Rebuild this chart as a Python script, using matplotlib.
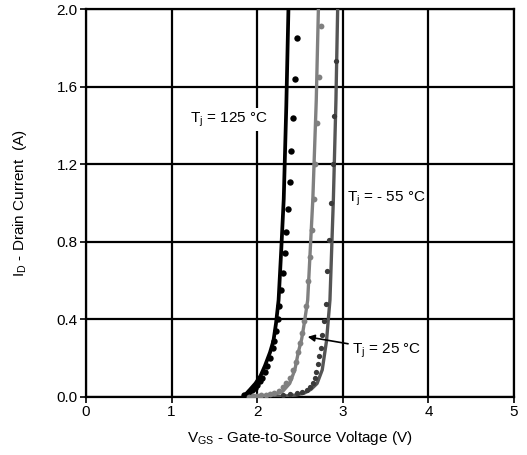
import matplotlib
matplotlib.use("Agg")
import matplotlib.pyplot as plt

plt.rcParams['font.family'] = ['Liberation Sans', 'DejaVu Sans']
plt.rcParams['mathtext.fontset'] = 'custom'
plt.rcParams['mathtext.rm'] = 'Liberation Sans'
plt.rcParams['mathtext.it'] = 'Liberation Sans'

# Fitted transfer curves (V_GS in V, I_D in A)
v_fit_125 = [1.84, 1.92, 1.98, 2.04, 2.09, 2.15, 2.19, 2.22, 2.25, 2.28, 2.31, 2.34, 2.365]
i_fit_125 = [0.00, 0.04, 0.07, 0.11, 0.16, 0.23, 0.29, 0.38, 0.50, 0.75, 1.02, 1.50, 2.00]

v_fit_25 = [1.88, 2.05, 2.20, 2.30, 2.38, 2.44, 2.48, 2.52, 2.55, 2.59, 2.65, 2.69, 2.715]
i_fit_25 = [0.00, 0.005, 0.012, 0.03, 0.07, 0.14, 0.23, 0.30, 0.38, 0.50, 1.02, 1.53, 2.00]

v_fit_m55 = [2.05, 2.30, 2.45, 2.55, 2.63, 2.70, 2.76, 2.79, 2.81, 2.85, 2.89, 2.92, 2.94]
i_fit_m55 = [0.00, 0.004, 0.01, 0.02, 0.04, 0.07, 0.14, 0.23, 0.29, 0.50, 1.02, 1.53, 2.00]

# Measured points
v_meas_125 = [2.46, 2.44, 2.42, 2.40, 2.38, 2.36, 2.34, 2.32, 2.30, 2.28, 2.26, 2.24, 2.22,
              2.20, 2.18, 2.15, 2.12, 2.09, 2.06, 2.03, 2.00, 1.97, 1.94, 1.91, 1.88, 1.85]
i_meas_125 = [1.85, 1.64, 1.44, 1.27, 1.11, 0.97, 0.85, 0.74, 0.64, 0.55, 0.47, 0.40, 0.34,
              0.29, 0.25, 0.20, 0.16, 0.13, 0.10, 0.08, 0.06, 0.045, 0.035, 0.025, 0.015, 0.01]

v_meas_25 = [2.75, 2.72, 2.70, 2.68, 2.66, 2.64, 2.62, 2.59, 2.57, 2.55, 2.52, 2.50, 2.48,
             2.45, 2.42, 2.38, 2.34, 2.30, 2.25, 2.20, 2.15, 2.10, 2.05, 2.00, 1.95, 1.90]
i_meas_25 = [1.91, 1.65, 1.41, 1.20, 1.02, 0.86, 0.72, 0.60, 0.47, 0.39, 0.33, 0.28, 0.23,
             0.18, 0.14, 0.10, 0.07, 0.05, 0.03, 0.02, 0.015, 0.01, 0.008, 0.005, 0.003, 0.002]

v_meas_m55 = [2.92, 2.90, 2.88, 2.86, 2.84, 2.81, 2.80, 2.78, 2.76, 2.74, 2.72, 2.71, 2.69,
              2.68, 2.65, 2.62, 2.58, 2.52, 2.46, 2.38, 2.30]
i_meas_m55 = [1.73, 1.45, 1.20, 1.00, 0.81, 0.65, 0.48, 0.39, 0.32, 0.25, 0.21, 0.17, 0.13,
              0.10, 0.07, 0.05, 0.035, 0.025, 0.02, 0.015, 0.01]

x_ticks = [0, 1, 2, 3, 4, 5]
y_ticks = [0.0, 0.4, 0.8, 1.2, 1.6, 2.0]

fig = plt.figure(figsize=(5.27, 4.55), dpi=100)
ax = fig.add_axes([0.1632, 0.1275, 0.8121, 0.8527])

ax.plot(v_fit_125, i_fit_125, color='#000000', lw=2.7, solid_capstyle='butt', zorder=3)
ax.plot(v_fit_25, i_fit_25, color='#808080', lw=2.4, solid_capstyle='butt', zorder=3)
ax.plot(v_fit_m55, i_fit_m55, color='#555555', lw=2.4, solid_capstyle='butt', zorder=3)

ax.plot(v_meas_125, i_meas_125, 'o', color='#000000', ms=4.6, mec='none', zorder=4)
ax.plot(v_meas_25, i_meas_25, 'o', color='#808080', ms=4.2, mec='none', zorder=4)
ax.plot(v_meas_m55, i_meas_m55, 'o', color='#3a3a3a', ms=3.8, mec='none', zorder=4)

ax.set_xlim(0, 5)
ax.set_ylim(0, 2.0)
ax.set_xticks(x_ticks)
ax.set_yticks(y_ticks)
ax.set_xticklabels([str(t) for t in x_ticks])
ax.set_yticklabels([f"{t:.1f}" for t in y_ticks])
ax.grid(True, color='black', lw=1.6, zorder=1)
ax.set_axisbelow(True)
for s in ax.spines.values():
    s.set_linewidth(1.6)
ax.tick_params(direction='out', length=4, width=1.2, labelsize=11, pad=2)

ax.set_xlabel(r'$\mathregular{V_{GS}}$ - Gate-to-Source Voltage (V)', fontsize=11, labelpad=7)
ax.set_ylabel(r'$\mathregular{I_D}$ - Drain Current  (A)', fontsize=11, labelpad=20)

ax.text(1.21, 1.43, r'$\mathregular{T_j}$ = 125 °C', fontsize=11, ha='left', va='center',
        zorder=5, bbox=dict(facecolor='white', edgecolor='none', pad=1.5))
ax.text(3.05, 1.02, r'$\mathregular{T_j}$ = - 55 °C', fontsize=11, ha='left', va='center', zorder=5)
ax.annotate(r'$\mathregular{T_j}$ = 25 °C', xy=(2.59, 0.31), xytext=(3.11, 0.24),
            fontsize=11, ha='left', va='center', zorder=5,
            arrowprops=dict(arrowstyle='-|>', color='black', lw=1.2, shrinkA=1, shrinkB=0,
                            mutation_scale=10))

fig.savefig('out.png', dpi=100)
